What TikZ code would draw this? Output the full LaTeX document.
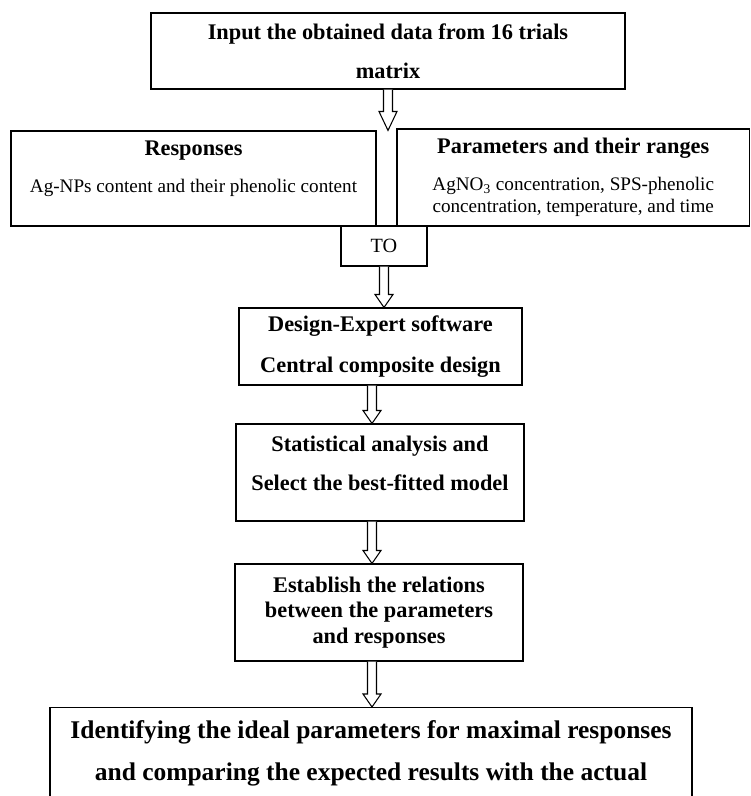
\documentclass[tikz,border=0pt]{standalone}
\usepackage{fontspec}
\setmainfont{Liberation Serif}
\usetikzlibrary{calc}
\tikzset{
  every picture/.style={line width=0.6pt},
  sbox/.style={draw, align=center, inner sep=2pt},
  sarrow/.style={draw, fill=white, line join=miter},
  shead/.style={font=\fontsize{12.7}{22.2}\selectfont\bfseries},
  stext/.style={font=\fontsize{10.9}{12.5}\selectfont},
}
% hollow block arrow: [head length]{from}{tip}
\newcommand{\hArrow}[3][0.26]{%
  \draw[sarrow] ($(#2)+(-0.09,0)$) -- ($(#3)+(-0.09,#1)$) -- ($(#3)+(-0.18,#1)$)
    -- (#3) -- ($(#3)+(0.18,#1)$) -- ($(#3)+(0.09,#1)$) -- ($(#2)+(0.09,0)$);}

\begin{document}
\begin{tikzpicture}
  \useasboundingbox (0,0) rectangle (15.02,-15.92);
  \node[sbox, shead, minimum width=9.48cm, minimum height=1.52cm] (input)
        at (7.76,-1.02) {Input the obtained data from 16 trials\\matrix};
  \node[sbox, stext, minimum width=7.30cm, minimum height=1.90cm,
        text depth=13.7pt] (resp) at (3.87,-3.57)
        {{\fontsize{12.7}{12.5}\selectfont\bfseries Responses}\\[8.5pt]
         Ag-NPs content and their phenolic content};
  \node[sbox, stext, minimum width=7.05cm, minimum height=1.94cm] (param)
        at (11.465,-3.55)
        {{\fontsize{12.7}{12.5}\selectfont\bfseries Parameters and their ranges}\\[8.5pt]
         AgNO\textsubscript{3} concentration, SPS-phenolic\\
         concentration, temperature, and time};
  \node[sbox, font=\fontsize{11.5}{14}\selectfont, minimum width=1.72cm,
        minimum height=0.80cm] (to) at (7.68,-4.92) {TO};
  \node[sbox, font=\fontsize{12.7}{23.2}\selectfont\bfseries, minimum width=5.66cm,
        minimum height=1.54cm] (design) at (7.61,-6.93)
        {Design-Expert software\\Central composite design};
  \node[sbox, font=\fontsize{12.7}{22.1}\selectfont\bfseries, minimum width=5.76cm,
        minimum height=1.94cm, text depth=10.8pt] (stat) at (7.60,-9.45)
        {Statistical analysis and\\Select the best-fitted model};
  \node[sbox, font=\fontsize{12.7}{14.7}\selectfont\bfseries, minimum width=5.76cm,
        minimum height=1.94cm] (estab) at (7.58,-12.25)
        {Establish the relations\\between the parameters\\and responses};
  \node[sbox, font=\fontsize{14.5}{23.8}\selectfont\bfseries, minimum width=12.84cm,
        inner ysep=7.5pt, text depth=30pt, anchor=north] (ideal) at (7.42,-14.14)
        {Identifying the ideal parameters for maximal responses\\
         and comparing the expected results with the actual};
  \coordinate (spine) at (7.44,0);
  % arrows
  \hArrow[0.38]{input.south}{input.south |- resp.north}
  \hArrow{to.south}{to.south |- design.north}
  \hArrow{design.south -| spine}{stat.north -| spine}
  \hArrow{stat.south -| spine}{estab.north -| spine}
  \hArrow{estab.south -| spine}{ideal.north -| spine}
\end{tikzpicture}
\end{document}
